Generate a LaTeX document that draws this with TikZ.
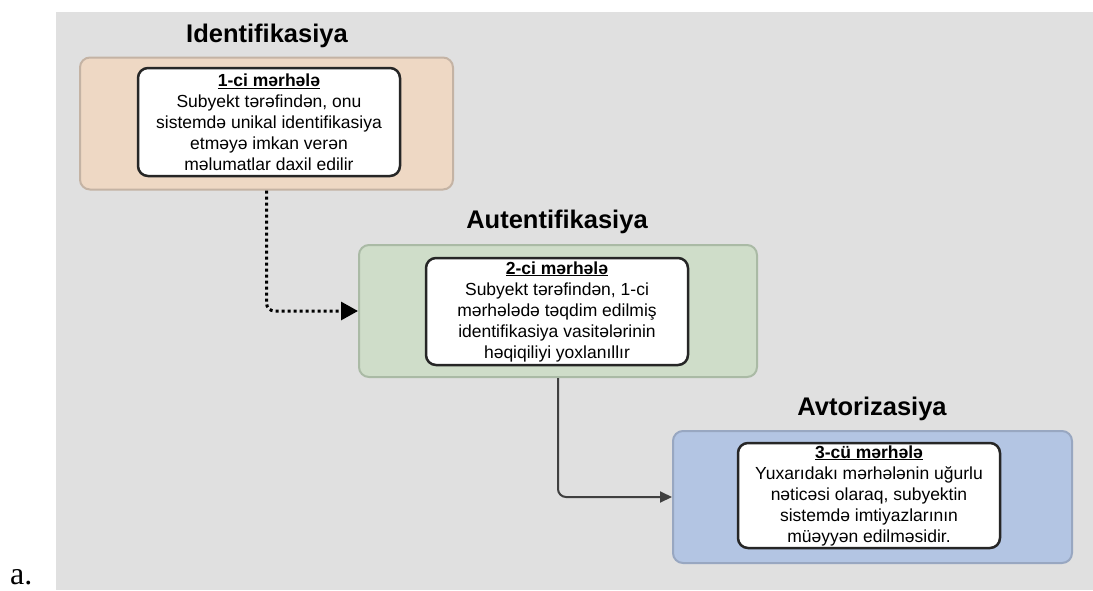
\documentclass[tikz,border=0pt]{standalone}
\usepackage{fontspec}
\setmainfont{Liberation Sans}
\newfontfamily\labelfont{Liberation Serif}
\usetikzlibrary{arrows.meta}
\definecolor{bggray}{HTML}{E0E0E0}
\definecolor{tanfill}{HTML}{EED8C4}
\definecolor{tanline}{HTML}{C4B3A4}
\definecolor{greenfill}{HTML}{CFDDC9}
\definecolor{greenline}{HTML}{AABAA5}
\definecolor{bluefill}{HTML}{B3C5E3}
\definecolor{blueline}{HTML}{98A7C1}
\begin{document}
\begin{tikzpicture}[x=1pt,y=-1pt,
    stage/.style={draw,line width=2pt,rounded corners=10pt,inner sep=0pt,minimum height=132pt},
    card/.style={draw=black!85,fill=white,line width=2.5pt,rounded corners=10pt,align=center,inner sep=0pt,minimum width=262pt,font=\fontsize{17.5}{21}\selectfont},
    title/.style={font=\fontsize{25.5}{30}\selectfont\bfseries}]
  \useasboundingbox (0,0) rectangle (1093,590);
  \fill[bggray] (56,12) rectangle (1093,590);
  % stages
  \node[stage,draw=tanline,fill=tanfill,minimum width=373pt] (S1) at (266.5,123.5) {};
  \node[stage,draw=greenline,fill=greenfill,minimum width=398pt] (S2) at (558,311) {};
  \node[stage,draw=blueline,fill=bluefill,minimum width=399pt] (S3) at (872.5,497) {};
  \node[title] (T1) at (267,36) {Identifikasiya};
  \node[title] (T2) at (557,222) {Autentifikasiya};
  \node[title] (T3) at (872,409) {Avtorizasiya};
  % cards
  \node[card,minimum height=108pt] (C1) at (269,122) {\underline{\textbf{1-ci mərhələ}}\\Subyekt tərəfindən, onu\\sistemdə unikal identifikasiya\\etməyə imkan verən\\məlumatlar daxil edilir};
  \node[card,minimum height=107pt] (C2) at (557,311.5) {\underline{\textbf{2-ci mərhələ}}\\Subyekt tərəfindən, 1-ci\\mərhələdə təqdim edilmiş\\identifikasiya vasitələrinin\\həqiqiliyi yoxlanıllır};
  \node[card,minimum height=105pt] (C3) at (869,495.5) {\underline{\textbf{3-cü mərhələ}}\\Yuxarıdakı mərhələnin uğurlu\\nəticəsi olaraq, subyektin\\sistemdə imtiyazlarının\\müəyyən edilməsidir.};
  % arrows
  \draw[line width=3pt,dash pattern=on 3pt off 3pt,rounded corners=8pt,-{Triangle[length=17pt,width=18pt]}] (S1.south) |- (S2.west);
  \draw[line width=2pt,black!75,rounded corners=8pt,-{Triangle[length=12pt,width=11pt]}] (S2.south) |- (S3.west);
  \node[anchor=base west,inner sep=0pt,font=\labelfont\fontsize{32}{36}\selectfont] (L) at (10,584) {a.};
\end{tikzpicture}
\end{document}
